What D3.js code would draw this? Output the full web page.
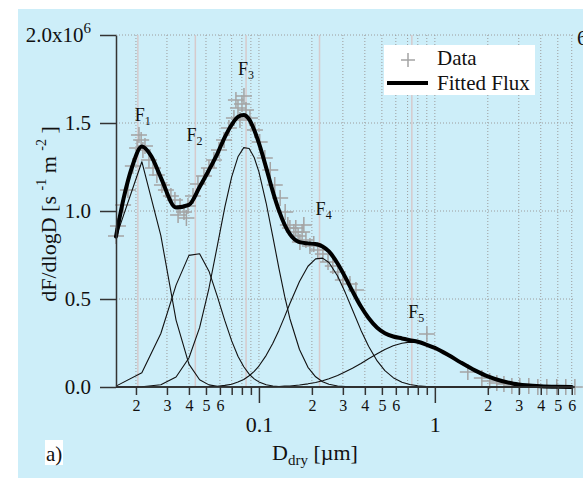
<!DOCTYPE html>
<html>
<head>
<meta charset="utf-8">
<script src="https://cdn.jsdelivr.net/npm/d3@7"></script>
<style>
  html, body { margin: 0; padding: 0; background: #fff; }
  svg { display: block; }
  text { font-family: "Liberation Serif", "Times New Roman", serif; fill: #111; }
</style>
</head>
<body>
<svg id="chart" width="583" height="478"></svg>
<script>
// Measured number flux (units of 1e6 m^-2 s^-1) versus dry diameter (µm)
const dataDiam = [
  0.0154, 0.0158, 0.0169, 0.0180, 0.0192, 0.0203, 0.0208, 0.0214, 0.0219, 0.0225,
  0.0237, 0.0250, 0.0263, 0.0281, 0.0296, 0.0316, 0.0333, 0.0347, 0.0356, 0.0375,
  0.0387, 0.0395, 0.0422, 0.0450, 0.0487, 0.0520, 0.0555, 0.0593, 0.0633, 0.0675,
  0.0721, 0.0740, 0.0760, 0.0780, 0.0801, 0.0822, 0.0844, 0.0889, 0.0949, 0.101,
  0.108, 0.116, 0.123, 0.132, 0.141, 0.146, 0.150, 0.158, 0.162, 0.167,
  0.171, 0.176, 0.180, 0.185, 0.195, 0.205, 0.216, 0.231, 0.247, 0.263,
  0.281, 0.300, 0.329, 0.356, 0.901, 1.54, 1.85, 2.05, 2.25, 2.47,
  2.74, 3.04, 3.42, 3.85, 4.33, 4.93, 5.55, 6.25
];
const dataFlux = [
  0.858, 0.915, 1.034, 1.119, 1.256, 1.358, 1.432, 1.403, 1.347, 1.369,
  1.290, 1.244, 1.205, 1.148, 1.119, 1.085, 1.063, 0.977, 1.028, 0.994,
  0.960, 1.028, 1.085, 1.153, 1.199, 1.244, 1.290, 1.347, 1.403, 1.472,
  1.528, 1.631, 1.585, 1.517, 1.608, 1.653, 1.574, 1.528, 1.460, 1.392,
  1.301, 1.233, 1.148, 1.074, 0.994, 0.920, 0.903, 0.881, 0.903, 0.858,
  0.824, 0.881, 0.920, 0.835, 0.801, 0.813, 0.778, 0.756, 0.710, 0.688,
  0.653, 0.608, 0.585, 0.551, 0.301, 0.085, 0.051, 0.034, 0.023, 0.017,
  0.006, 0.006, 0.006, 0, 0, 0, 0, 0
];

// Diameters at which the individual lognormal modes are tabulated
const modeDiam = [
  0.0154, 0.0216, 0.0277, 0.0338, 0.040, 0.046, 0.052, 0.058, 0.064, 0.070,
  0.076, 0.082, 0.088, 0.094, 0.100, 0.11, 0.12, 0.13, 0.14, 0.15,
  0.17, 0.19, 0.21, 0.23, 0.25, 0.28, 0.31, 0.34, 0.38, 0.42,
  0.47, 0.52, 0.58, 0.65, 0.72, 0.80, 0.90, 1.0, 1.2, 1.4,
  1.7, 2.0, 2.4, 2.8, 3.3, 4.0, 5.0, 6.0
];
const modeF1 = [
  0.85, 1.28, 0.86, 0.38, 0.13, 0.041, 0.012, 0.004, 0.001, 0,
  0, 0, 0, 0, 0, 0, 0, 0, 0, 0,
  0, 0, 0, 0, 0, 0, 0, 0, 0, 0,
  0, 0, 0, 0, 0, 0, 0, 0, 0, 0,
  0, 0, 0, 0, 0, 0, 0, 0
];
const modeF2 = [
  0.005, 0.081, 0.304, 0.579, 0.748, 0.757, 0.658, 0.515, 0.377, 0.262,
  0.175, 0.115, 0.073, 0.046, 0.029, 0.013, 0.006, 0.003, 0.001, 0,
  0, 0, 0, 0, 0, 0, 0, 0, 0, 0,
  0, 0, 0, 0, 0, 0, 0, 0, 0, 0,
  0, 0, 0, 0, 0, 0, 0, 0
];
const modeF3 = [
  0, 0.001, 0.013, 0.057, 0.165, 0.337, 0.561, 0.802, 1.022, 1.194,
  1.308, 1.360, 1.355, 1.304, 1.222, 1.044, 0.853, 0.673, 0.516, 0.388,
  0.213, 0.112, 0.058, 0.030, 0.016, 0.006, 0.002, 0, 0, 0,
  0, 0, 0, 0, 0, 0, 0, 0, 0, 0,
  0, 0, 0, 0, 0, 0, 0, 0
];
const modeF4 = [
  0, 0, 0, 0, 0, 0.001, 0.002, 0.004, 0.009, 0.016,
  0.028, 0.043, 0.064, 0.089, 0.119, 0.180, 0.249, 0.323, 0.400, 0.474,
  0.599, 0.686, 0.728, 0.732, 0.707, 0.631, 0.535, 0.439, 0.323, 0.231,
  0.148, 0.093, 0.053, 0.027, 0.014, 0.007, 0.003, 0.001, 0, 0,
  0, 0, 0, 0, 0, 0, 0, 0
];
const modeF5 = [
  0, 0, 0, 0, 0, 0, 0, 0, 0, 0,
  0, 0, 0, 0, 0.001, 0.001, 0.002, 0.003, 0.005, 0.006,
  0.011, 0.018, 0.026, 0.036, 0.047, 0.065, 0.086, 0.106, 0.134, 0.161,
  0.189, 0.213, 0.234, 0.249, 0.255, 0.253, 0.241, 0.224, 0.182, 0.142,
  0.094, 0.061, 0.035, 0.020, 0.010, 0.004, 0.001, 0
];

// Total fitted flux (sum of the five modes)
const fitDiam = [
  0.0154, 0.0170, 0.0190, 0.0216, 0.0245, 0.0277, 0.0338, 0.040, 0.046, 0.052,
  0.058, 0.064, 0.070, 0.076, 0.082, 0.088, 0.094, 0.100, 0.11, 0.12,
  0.13, 0.14, 0.15, 0.17, 0.19, 0.21, 0.23, 0.25, 0.28, 0.31,
  0.34, 0.38, 0.42, 0.47, 0.52, 0.58, 0.65, 0.72, 0.80, 0.90,
  1.0, 1.2, 1.4, 1.7, 2.0, 2.4, 2.8, 3.3, 4.0, 5.0, 6.0
];
const fitFlux = [
  0.855, 1.07, 1.25, 1.367, 1.31, 1.19, 1.02, 1.035, 1.136, 1.233,
  1.325, 1.42, 1.49, 1.535, 1.545, 1.52, 1.46, 1.385, 1.245, 1.110,
  1.002, 0.922, 0.868, 0.823, 0.816, 0.812, 0.798, 0.770, 0.702, 0.623,
  0.545, 0.457, 0.392, 0.337, 0.306, 0.287, 0.276, 0.266, 0.257, 0.240,
  0.222, 0.180, 0.140, 0.093, 0.060, 0.034, 0.019, 0.010, 0.004, 0.001, 0
];

// Mode centre diameters and their labels
const modeNames = ["1", "2", "3", "4", "5"];
const modeCentres = [0.0205, 0.0435, 0.0845, 0.221, 0.74];
const modeLabelPos = [[0.0197, 1.51], [0.0388, 1.40], [0.0760, 1.77], [0.210, 0.98], [0.705, 0.39]];

// Axis ticks
const yTicks = [0, 0.5, 1.0, 1.5, 2.0];
const yTickLabels = ["0.0", "0.5", "1.0", "1.5", "2.0x10"];
const xMajorTicks = [0.1, 1];
const xMajorLabels = ["0.1", "1"];
const xMinorTicks = [0.02, 0.03, 0.04, 0.05, 0.06, 0.07, 0.08, 0.09,
                     0.2, 0.3, 0.4, 0.5, 0.6, 0.7, 0.8, 0.9,
                     2, 3, 4, 5, 6];
const xMinorLabels = ["2", "3", "4", "5", "6", "", "", "",
                      "2", "3", "4", "5", "6", "", "", "",
                      "2", "3", "4", "5", "6"];

const svg = d3.select("#chart");
const x = d3.scaleLog().domain([0.0154, 6.1]).range([116, 573]);
const y = d3.scaleLinear().domain([0, 2]).range([387, 35]);

// Panel background
svg.append("rect").attr("x", 18).attr("y", 9).attr("width", 565).attr("height", 469)
  .attr("fill", "#cdeef9");

// Dotted grid
const grid = svg.append("g").attr("stroke", "#9c9c9c").attr("stroke-width", 1)
  .attr("stroke-dasharray", "1,2");
grid.selectAll("line.v").data(xMinorTicks.concat(xMajorTicks)).join("line")
  .attr("x1", d => x(d)).attr("x2", d => x(d))
  .attr("y1", y(2)).attr("y2", y(0));
grid.selectAll("line.h").data(yTicks.slice(1)).join("line")
  .attr("x1", x.range()[0]).attr("x2", 575)
  .attr("y1", d => y(d)).attr("y2", d => y(d));

// Mode centre markers
svg.append("g").selectAll("line").data(modeCentres).join("line")
  .attr("x1", d => x(d)).attr("x2", d => x(d))
  .attr("y1", y(2)).attr("y2", y(0))
  .attr("stroke", "#d6cacc").attr("stroke-width", 1.5);

// Data crosses
const crossPath = "M-8,0H8M0,-8V8";
svg.append("g").selectAll("path").data(dataDiam.map((d, i) => [d, dataFlux[i]])).join("path")
  .attr("d", crossPath)
  .attr("transform", d => `translate(${x(d[0])},${y(d[1])})`)
  .attr("stroke", "#a4a4a4").attr("stroke-width", 1.5).attr("fill", "none");

// Individual modes
const modeLine = d3.line().x(d => x(d[0])).y(d => y(d[1]));
const modes = [modeF1, modeF2, modeF3, modeF4, modeF5];
svg.append("g").selectAll("path").data(modes).join("path")
  .attr("d", vals => modeLine(modeDiam.map((d, i) => [d, vals[i]])))
  .attr("fill", "none").attr("stroke", "#111").attr("stroke-width", 1.1)
  .attr("stroke-linejoin", "round");

// Fitted flux
const fitLine = d3.line().x(d => x(d[0])).y(d => y(d[1])).curve(d3.curveMonotoneX);
svg.append("path")
  .attr("d", fitLine(fitDiam.map((d, i) => [d, fitFlux[i]])))
  .attr("fill", "none").attr("stroke", "#000").attr("stroke-width", 4)
  .attr("stroke-linejoin", "round").attr("stroke-linecap", "round");

// Y axis
const yAxis = svg.append("g").attr("transform", `translate(${x.range()[0]},0)`)
  .call(d3.axisLeft(y).tickValues(yTicks).tickSize(16).tickSizeOuter(0).tickPadding(9)
    .tickFormat((d, i) => yTickLabels[i]));
yAxis.selectAll("text").attr("font-size", 21).attr("font-family", "Liberation Serif").attr("fill", "#111")
  .each(function (d) {
    if (d === 2) {
      d3.select(this).append("tspan").attr("dy", "-0.6em").attr("font-size", 15).text("6");
    }
  });

// X axis: minor ticks with small labels
const xMinor = svg.append("g").attr("transform", `translate(0,${y(0)})`)
  .call(d3.axisBottom(x).tickValues(xMinorTicks).tickSize(8).tickSizeOuter(0).tickPadding(5)
    .tickFormat((d, i) => xMinorLabels[i]));
xMinor.selectAll("text").attr("font-size", 16).attr("font-family", "Liberation Serif").attr("fill", "#222");

// X axis: decade ticks
const xMajor = svg.append("g").attr("transform", `translate(0,${y(0)})`)
  .call(d3.axisBottom(x).tickValues(xMajorTicks).tickSize(16).tickSizeOuter(0).tickPadding(13)
    .tickFormat((d, i) => xMajorLabels[i]));
xMajor.selectAll("text").attr("font-size", 22).attr("font-family", "Liberation Serif").attr("fill", "#111");
xMajor.select(".domain").remove();

[yAxis, xMinor, xMajor].forEach(g => {
  g.selectAll("line").attr("stroke", "#333").attr("stroke-width", 1.5);
  g.selectAll(".domain").attr("stroke", "#333").attr("stroke-width", 1.5);
});
xMinor.select(".domain").attr("d", `M${x.range()[0]},0H575`);

// Mode labels F1..F5
modeNames.forEach((n, i) => {
  const t = svg.append("text")
    .attr("x", x(modeLabelPos[i][0])).attr("y", y(modeLabelPos[i][1]))
    .attr("font-size", 18).text("F");
  t.append("tspan").attr("dy", 4).attr("font-size", 12).text(n);
});

// Axis titles
const yTitle = svg.append("text")
  .attr("transform", "translate(56,214) rotate(-90)")
  .attr("text-anchor", "middle").attr("font-size", 22);
yTitle.append("tspan").text("dF/dlogD [s ");
yTitle.append("tspan").attr("dy", -10).attr("font-size", 14).text("-1");
yTitle.append("tspan").attr("dy", 10).text("  m ");
yTitle.append("tspan").attr("dy", -10).attr("font-size", 14).text("-2");
yTitle.append("tspan").attr("dy", 10).text(" ]");

const xTitle = svg.append("text").attr("x", 272).attr("y", 460).attr("font-size", 22);
xTitle.append("tspan").text("D");
xTitle.append("tspan").attr("dy", 5).attr("font-size", 15).text("dry");
xTitle.append("tspan").attr("dy", -5).text(" [µm]");

// Panel tag
svg.append("rect").attr("x", 45).attr("y", 440).attr("width", 18).attr("height", 25).attr("fill", "#fff");
svg.append("text").attr("x", 46).attr("y", 461).attr("font-size", 21).text("a)");

// Legend
const lg = svg.append("g");
lg.append("rect").attr("x", 384).attr("y", 45).attr("width", 151).attr("height", 50).attr("fill", "#fff");
lg.append("path").attr("d", "M-7,0H7M0,-7V7").attr("transform", "translate(408,60)")
  .attr("stroke", "#a4a4a4").attr("stroke-width", 1.5);
lg.append("line").attr("x1", 387).attr("x2", 428).attr("y1", 83).attr("y2", 83)
  .attr("stroke", "#000").attr("stroke-width", 4);
lg.append("text").attr("x", 437).attr("y", 65).attr("font-size", 21).text("Data");
lg.append("text").attr("x", 437).attr("y", 90).attr("font-size", 21).text("Fitted Flux");

// Edge of the neighbouring panel's axis label
svg.append("text").attr("x", 577).attr("y", 45).attr("font-size", 21).text("6");
</script>
</body>
</html>
